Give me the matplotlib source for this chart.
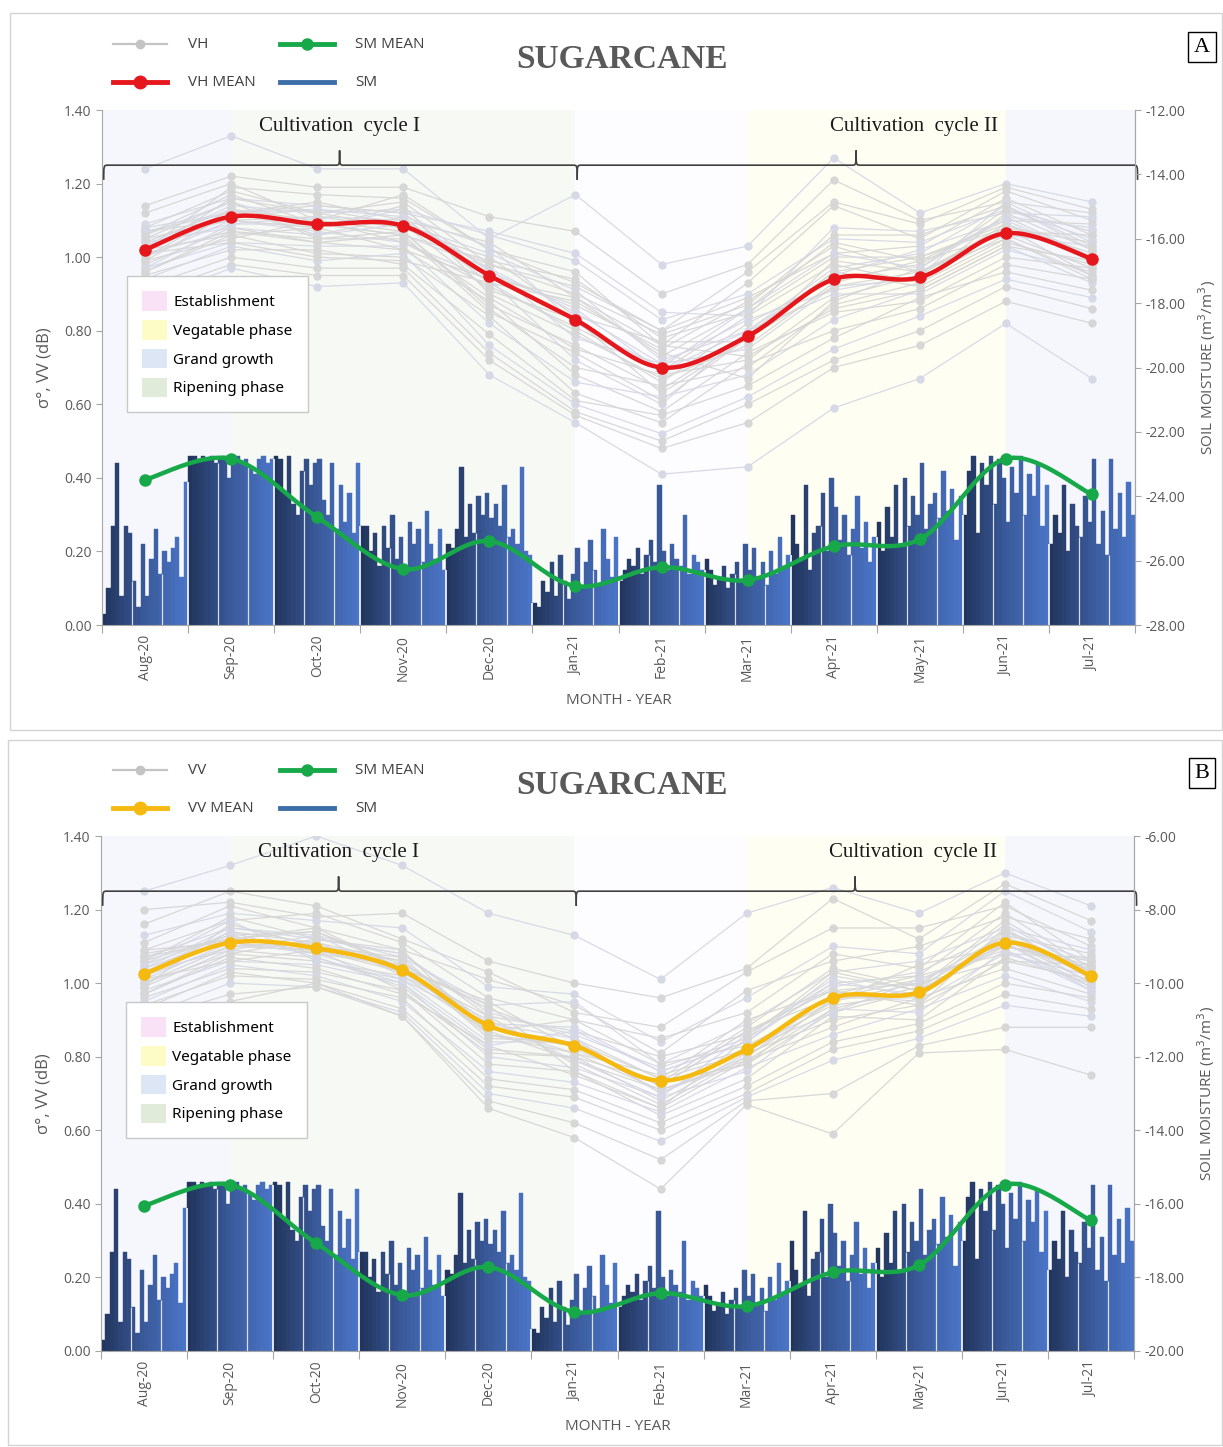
import numpy as np
import matplotlib
matplotlib.use("Agg")
import matplotlib.pyplot as plt
from matplotlib.patches import Patch, Rectangle, PathPatch
from matplotlib.lines import Line2D
from matplotlib.path import Path
from matplotlib.colors import LinearSegmentedColormap

plt.rcParams['font.family'] = ['Open Sans', 'DejaVu Sans']

# ---------------- data ----------------
months = ['Aug-20', 'Sep-20', 'Oct-20', 'Nov-20', 'Dec-20', 'Jan-21',
          'Feb-21', 'Mar-21', 'Apr-21', 'May-21', 'Jun-21', 'Jul-21']

vh_mean = [1.02, 1.11, 1.09, 1.085, 0.95, 0.83, 0.70, 0.785, 0.94, 0.945, 1.065, 0.995]
vv_mean = [1.025, 1.11, 1.095, 1.035, 0.885, 0.83, 0.735, 0.82, 0.96, 0.975, 1.11, 1.02]
sm_mean = [0.395, 0.452, 0.293, 0.152, 0.228, 0.106, 0.157, 0.122, 0.214, 0.233, 0.452, 0.355]

# daily soil moisture bars (left-axis units), one list per month
sm_aug = [0.03, 0.10, 0.27, 0.44, 0.08, 0.27, 0.25, 0.12, 0.05, 0.22, 0.08, 0.18, 0.26, 0.14, 0.20, 0.17, 0.21, 0.24, 0.13, 0.39]
sm_sep = [0.46, 0.46, 0.45, 0.46, 0.45, 0.46, 0.44, 0.45, 0.46, 0.40, 0.45, 0.46, 0.44, 0.45, 0.43, 0.41, 0.45, 0.46, 0.44, 0.45]
sm_oct = [0.46, 0.45, 0.36, 0.46, 0.33, 0.30, 0.42, 0.45, 0.38, 0.44, 0.45, 0.34, 0.30, 0.44, 0.26, 0.38, 0.28, 0.36, 0.25, 0.44]
sm_nov = [0.27, 0.27, 0.20, 0.25, 0.16, 0.27, 0.21, 0.30, 0.18, 0.24, 0.14, 0.28, 0.22, 0.26, 0.17, 0.31, 0.22, 0.18, 0.26, 0.15]
sm_dec = [0.22, 0.21, 0.26, 0.43, 0.24, 0.33, 0.25, 0.35, 0.30, 0.36, 0.29, 0.33, 0.27, 0.38, 0.24, 0.26, 0.22, 0.43, 0.20, 0.19]
sm_jan = [0.06, 0.05, 0.12, 0.09, 0.17, 0.08, 0.19, 0.12, 0.07, 0.14, 0.21, 0.10, 0.17, 0.23, 0.15, 0.11, 0.26, 0.18, 0.13, 0.24]
sm_feb = [0.12, 0.15, 0.18, 0.16, 0.21, 0.14, 0.19, 0.23, 0.17, 0.38, 0.20, 0.15, 0.22, 0.18, 0.16, 0.30, 0.14, 0.19, 0.17, 0.15]
sm_mar = [0.18, 0.15, 0.11, 0.13, 0.16, 0.10, 0.14, 0.17, 0.12, 0.22, 0.15, 0.21, 0.13, 0.17, 0.11, 0.20, 0.14, 0.24, 0.16, 0.19]
sm_apr = [0.30, 0.22, 0.18, 0.38, 0.15, 0.25, 0.27, 0.36, 0.20, 0.40, 0.32, 0.23, 0.30, 0.19, 0.26, 0.35, 0.21, 0.28, 0.17, 0.24]
sm_may = [0.28, 0.20, 0.32, 0.24, 0.38, 0.22, 0.40, 0.27, 0.35, 0.30, 0.44, 0.26, 0.33, 0.36, 0.29, 0.42, 0.31, 0.37, 0.23, 0.35]
sm_jun = [0.30, 0.42, 0.46, 0.25, 0.44, 0.38, 0.46, 0.33, 0.45, 0.40, 0.28, 0.43, 0.36, 0.46, 0.30, 0.41, 0.35, 0.44, 0.27, 0.38]
sm_jul = [0.22, 0.30, 0.25, 0.38, 0.20, 0.33, 0.27, 0.24, 0.35, 0.28, 0.45, 0.22, 0.31, 0.19, 0.45, 0.26, 0.36, 0.24, 0.39, 0.30]
sm_daily = [sm_aug, sm_sep, sm_oct, sm_nov, sm_dec, sm_jan, sm_feb, sm_mar, sm_apr, sm_may, sm_jun, sm_jul]

# individual fields, VH (panel A)
vh_fields = [
    [1.24, 1.33, 1.24, 1.24, 1.05, 1.17, 0.98, 1.03, 1.27, 1.12, 1.20, 1.15],
    [1.14, 1.22, 1.19, 1.19, 1.11, 1.07, 0.90, 0.98, 1.21, 1.10, 1.15, 1.12],
    [1.12, 1.20, 1.10, 1.17, 1.02, 0.96, 0.76, 0.93, 1.14, 1.05, 1.18, 1.10],
    [1.09, 1.16, 1.14, 1.12, 1.07, 1.01, 0.85, 0.84, 1.08, 1.07, 1.12, 1.11],
    [1.08, 1.18, 1.12, 1.15, 0.98, 0.92, 0.80, 0.89, 1.01, 1.03, 1.16, 1.06],
    [1.07, 1.12, 1.15, 1.10, 1.04, 0.89, 0.73, 0.86, 1.04, 0.99, 1.10, 1.09],
    [1.06, 1.15, 1.08, 1.13, 0.96, 0.86, 0.69, 0.80, 0.97, 1.01, 1.14, 1.02],
    [1.05, 1.10, 1.11, 1.08, 1.00, 0.84, 0.77, 0.77, 0.99, 0.96, 1.08, 1.04],
    [1.04, 1.13, 1.06, 1.11, 0.93, 0.80, 0.66, 0.82, 0.94, 0.98, 1.11, 1.00],
    [1.03, 1.09, 1.09, 1.06, 0.97, 0.78, 0.71, 0.75, 0.92, 0.94, 1.06, 1.03],
    [1.02, 1.11, 1.13, 1.09, 0.91, 0.83, 0.63, 0.78, 0.96, 0.92, 1.04, 0.98],
    [1.01, 1.07, 1.05, 1.05, 0.89, 0.75, 0.68, 0.72, 0.89, 0.95, 1.09, 0.99],
    [1.00, 1.10, 1.07, 1.04, 0.94, 0.72, 0.60, 0.80, 0.90, 0.90, 1.02, 0.96],
    [0.99, 1.05, 1.10, 1.07, 0.86, 0.70, 0.65, 0.70, 0.87, 0.93, 1.05, 0.95],
    [0.98, 1.08, 1.04, 1.02, 0.88, 0.68, 0.58, 0.74, 0.85, 0.88, 1.00, 0.97],
    [0.97, 1.04, 1.03, 1.03, 0.82, 0.66, 0.62, 0.68, 0.83, 0.91, 1.03, 0.93],
    [0.96, 1.06, 1.01, 1.00, 0.84, 0.63, 0.55, 0.71, 0.80, 0.86, 0.98, 0.94],
    [0.95, 1.02, 1.02, 0.98, 0.79, 0.61, 0.57, 0.65, 0.78, 0.89, 0.96, 0.91],
    [0.94, 1.03, 0.99, 1.01, 0.76, 0.60, 0.52, 0.62, 0.75, 0.84, 0.94, 0.89],
    [0.92, 1.00, 0.97, 0.97, 0.74, 0.58, 0.50, 0.60, 0.72, 0.80, 0.92, 0.86],
    [0.90, 0.98, 0.95, 0.95, 0.72, 0.57, 0.48, 0.55, 0.70, 0.76, 0.88, 0.82],
    [0.88, 0.97, 0.92, 0.93, 0.68, 0.55, 0.41, 0.43, 0.59, 0.67, 0.82, 0.67],
    [1.02, 1.19, 1.17, 1.16, 1.02, 0.93, 0.80, 0.96, 1.15, 1.09, 1.19, 1.13],
    [1.01, 1.04, 1.00, 0.99, 0.93, 0.88, 0.74, 0.67, 0.88, 0.97, 1.13, 1.07],
    [1.03, 1.14, 1.12, 1.13, 1.06, 0.99, 0.83, 0.90, 1.05, 1.04, 1.13, 1.05],
    [1.06, 1.17, 1.09, 1.06, 0.99, 0.94, 0.78, 0.85, 1.00, 1.00, 1.09, 1.01],
    [0.99, 1.12, 1.14, 1.12, 0.95, 0.87, 0.75, 0.88, 1.03, 0.96, 1.07, 1.06],
    [1.04, 1.08, 1.06, 1.09, 1.01, 0.91, 0.72, 0.80, 0.95, 1.02, 1.10, 1.00],
    [1.00, 1.13, 1.10, 1.04, 0.92, 0.81, 0.69, 0.84, 0.98, 0.93, 1.12, 1.02],
    [1.07, 1.10, 1.08, 1.14, 0.90, 0.79, 0.67, 0.76, 0.93, 0.99, 1.06, 0.97],
    [0.97, 1.09, 1.11, 1.10, 0.97, 0.85, 0.71, 0.83, 0.91, 0.95, 1.15, 1.04],
    [1.05, 1.15, 1.05, 1.07, 0.87, 0.76, 0.64, 0.79, 0.96, 1.00, 1.08, 0.95],
    [1.02, 1.06, 1.08, 1.02, 0.94, 0.89, 0.76, 0.73, 0.86, 0.91, 1.03, 0.99],
    [1.08, 1.12, 1.13, 1.11, 1.03, 0.82, 0.70, 0.86, 1.01, 0.97, 1.11, 1.08],
    [0.96, 1.07, 1.04, 1.06, 0.85, 0.74, 0.61, 0.78, 0.92, 0.96, 1.05, 0.94],
    [1.01, 1.16, 1.12, 1.08, 0.98, 0.90, 0.79, 0.87, 1.06, 1.06, 1.14, 1.03],
]

# individual fields, VV (panel B)
vv_fields = [
    [1.25, 1.32, 1.40, 1.32, 1.19, 1.13, 1.01, 1.19, 1.26, 1.19, 1.30, 1.21],
    [1.20, 1.22, 1.18, 1.19, 1.06, 1.00, 0.96, 1.04, 1.23, 1.12, 1.27, 1.17],
    [1.16, 1.25, 1.21, 1.12, 1.03, 0.92, 0.88, 1.03, 1.15, 1.15, 1.21, 1.10],
    [1.13, 1.19, 1.17, 1.15, 0.99, 0.97, 0.84, 0.96, 1.10, 1.08, 1.25, 1.14],
    [1.11, 1.21, 1.15, 1.09, 1.01, 0.94, 0.81, 0.98, 1.06, 1.10, 1.18, 1.12],
    [1.09, 1.17, 1.19, 1.11, 0.96, 0.90, 0.85, 0.92, 1.08, 1.04, 1.22, 1.06],
    [1.07, 1.15, 1.13, 1.07, 0.94, 0.95, 0.78, 0.89, 1.03, 1.06, 1.15, 1.09],
    [1.06, 1.18, 1.12, 1.08, 0.91, 0.87, 0.80, 0.86, 1.00, 1.02, 1.19, 1.04],
    [1.05, 1.13, 1.14, 1.05, 0.93, 0.85, 0.74, 0.90, 0.98, 1.00, 1.13, 1.08],
    [1.04, 1.12, 1.10, 1.06, 0.89, 0.88, 0.76, 0.84, 1.02, 0.98, 1.16, 1.03],
    [1.03, 1.14, 1.11, 1.03, 0.88, 0.83, 0.72, 0.87, 0.96, 1.01, 1.10, 1.05],
    [1.02, 1.10, 1.09, 1.04, 0.86, 0.81, 0.75, 0.82, 0.94, 0.97, 1.12, 1.00],
    [1.01, 1.11, 1.08, 1.01, 0.84, 0.84, 0.70, 0.80, 0.97, 0.95, 1.08, 1.02],
    [1.00, 1.08, 1.06, 1.02, 0.87, 0.79, 0.71, 0.78, 0.92, 0.98, 1.11, 0.99],
    [0.99, 1.09, 1.07, 0.99, 0.82, 0.80, 0.68, 0.81, 0.90, 0.94, 1.06, 1.01],
    [0.98, 1.06, 1.05, 1.00, 0.80, 0.77, 0.69, 0.76, 0.93, 0.92, 1.09, 0.98],
    [0.97, 1.07, 1.04, 0.97, 0.83, 0.75, 0.66, 0.79, 0.88, 0.96, 1.04, 0.97],
    [0.96, 1.04, 1.03, 0.98, 0.78, 0.76, 0.64, 0.74, 0.91, 0.90, 1.07, 1.00],
    [0.95, 1.05, 1.02, 0.95, 0.76, 0.73, 0.65, 0.77, 0.86, 0.93, 1.02, 0.95],
    [0.94, 1.02, 1.01, 0.96, 0.74, 0.71, 0.62, 0.72, 0.84, 0.89, 1.00, 0.96],
    [0.93, 1.03, 1.00, 0.93, 0.72, 0.69, 0.60, 0.70, 0.82, 0.87, 0.97, 0.93],
    [0.91, 1.00, 0.99, 0.92, 0.70, 0.66, 0.57, 0.69, 0.79, 0.85, 0.94, 0.91],
    [0.90, 0.97, 0.99, 0.91, 0.68, 0.62, 0.52, 0.68, 0.70, 0.83, 0.88, 0.88],
    [0.90, 0.95, 1.00, 0.91, 0.66, 0.58, 0.44, 0.67, 0.59, 0.81, 0.82, 0.75],
    [1.04, 1.15, 1.12, 1.08, 0.92, 0.86, 0.77, 0.85, 0.99, 1.03, 1.14, 1.06],
    [1.08, 1.12, 1.15, 1.04, 0.95, 0.82, 0.73, 0.88, 1.04, 0.99, 1.17, 1.03],
    [0.99, 1.16, 1.10, 1.07, 0.87, 0.90, 0.78, 0.83, 0.95, 1.05, 1.10, 1.04],
    [1.03, 1.09, 1.13, 1.02, 0.90, 0.79, 0.69, 0.86, 1.01, 0.96, 1.13, 1.00],
    [1.06, 1.13, 1.08, 1.05, 0.85, 0.84, 0.74, 0.81, 0.97, 1.02, 1.08, 1.07],
    [1.00, 1.10, 1.11, 1.06, 0.88, 0.81, 0.71, 0.79, 0.93, 0.99, 1.12, 1.02],
    [1.02, 1.14, 1.07, 1.00, 0.83, 0.87, 0.76, 0.84, 1.00, 0.97, 1.11, 0.98],
    [1.09, 1.11, 1.09, 1.03, 0.91, 0.78, 0.67, 0.80, 0.95, 1.00, 1.06, 1.05],
    [0.97, 1.08, 1.12, 1.09, 0.86, 0.83, 0.72, 0.87, 0.98, 0.94, 1.15, 1.01],
    [1.05, 1.17, 1.06, 1.01, 0.89, 0.85, 0.70, 0.82, 0.92, 1.01, 1.09, 0.99],
    [1.01, 1.06, 1.09, 0.98, 0.81, 0.80, 0.73, 0.78, 0.96, 0.96, 1.14, 1.03],
    [1.07, 1.12, 1.14, 1.04, 0.94, 0.76, 0.66, 0.85, 1.03, 0.98, 1.10, 1.06],
]

phase_labels = ['Establishment', 'Vegatable phase', 'Grand growth', 'Ripening phase']
phase_legend_colors = ['#f9e2f6', '#fdfbc6', '#dce6f4', '#e1ebda']
# phase periods as (start month index, end month index, phase)
phase_periods = [(-0.5, 1.0, 'Grand growth'), (1.0, 5.0, 'Ripening phase'),
                 (5.0, 7.0, 'Establishment'), (7.0, 10.0, 'Vegatable phase'),
                 (10.0, 11.5, 'Grand growth')]
phase_bg = {'Grand growth': '#f5f7fc', 'Ripening phase': '#f7f9f4',
            'Establishment': '#fdfcfe', 'Vegatable phase': '#fefef2'}

# cycle label, brace start, brace end, brace tip, label centre
cycles = [('Cultivation  cycle I', -0.48, 5.02, 2.26, 2.26),
          ('Cultivation  cycle II', 5.02, 11.53, 8.26, 8.93)]

GRAY_T = '#595959'


def smooth(xs, ys, n=24):
    pts = np.column_stack([xs, ys]).astype(float)
    P = np.vstack([pts[0], pts, pts[-1]])
    out = []
    t = np.linspace(0, 1, n)[:, None]
    for i in range(1, len(P) - 2):
        p0, p1, p2, p3 = P[i - 1], P[i], P[i + 1], P[i + 2]
        c1 = p1 + (p2 - p0) / 6
        c2 = p2 - (p3 - p1) / 6
        seg = (1 - t) ** 3 * p1 + 3 * (1 - t) ** 2 * t * c1 + 3 * (1 - t) * t ** 2 * c2 + t ** 3 * p2
        out.append(seg)
    return np.vstack(out)


def brace(ax, x0, x1, xm, y, dy=0.04, dx=0.05):
    verts = [(x0, y - dy), (x0, y), (x0, y), (x0 + dx, y),
             (xm - dx, y),
             (xm, y), (xm, y), (xm, y + dy),
             (xm, y), (xm, y), (xm + dx, y),
             (x1 - dx, y),
             (x1, y), (x1, y), (x1, y - dy)]
    codes = [Path.MOVETO, Path.CURVE4, Path.CURVE4, Path.CURVE4,
             Path.LINETO,
             Path.CURVE4, Path.CURVE4, Path.CURVE4,
             Path.CURVE4, Path.CURVE4, Path.CURVE4,
             Path.LINETO,
             Path.CURVE4, Path.CURVE4, Path.CURVE4]
    pp = PathPatch(Path(verts, codes), fill=False, edgecolor='#404040', lw=1.2,
                   zorder=6, clip_on=False)
    ax.add_patch(pp)


bar_cmap = LinearSegmentedColormap.from_list('smb', ['#22355d', '#3a5a9a', '#4a74c6'])

fig = plt.figure(figsize=(12.23, 14.47), dpi=100)
W, H = 1223.0, 1447.0


def fx(px):
    return px / W


def fy(py):
    return 1 - py / H


def panel(top_px, left_px, fields, mean, mean_color, name, rlim, letter, frame):
    fig.add_artist(Rectangle((fx(frame[0]), fy(frame[3])), fx(frame[2] - frame[0]),
                             (frame[3] - frame[1]) / H, transform=fig.transFigure,
                             fill=False, edgecolor='#d4d4d4', lw=1.0))
    ax = fig.add_axes([fx(left_px), fy(top_px + 515), 1033 / W, 515 / H])
    ax.set_xlim(-0.5, 11.5)
    ax.set_ylim(0, 1.40)
    x = np.arange(len(months))

    for s, e, ph in phase_periods:
        ax.axvspan(s, e, color=phase_bg[ph], zorder=0, lw=0)

    # daily SM bars
    prev_last = None
    for m, vals in enumerate(sm_daily):
        n = len(vals)
        pos = m - 0.5 + (np.arange(n) + 0.5) / n
        cols = bar_cmap(np.linspace(0, 1, n))
        ax.bar(pos, vals, width=1.0 / n, color=cols, edgecolor=cols, linewidth=0.3, zorder=1)
        # thin white separators inside the bars
        for k in (7, 14):
            ax.vlines(m - 0.5 + k / n, 0, min(vals[k - 1], vals[k]), color='white',
                      lw=0.9, alpha=0.8, zorder=1.5)
        if prev_last is not None:
            ax.vlines(m - 0.5, 0, min(prev_last, vals[0]), color='white', lw=1.2, zorder=1.5)
        prev_last = vals[-1]

    # individual fields
    for i, f in enumerate(fields):
        c = '#d6d8e6' if i % 3 == 0 else '#d6d6d6'
        ax.plot(x, f, color=c, lw=0.9, marker='o', ms=5, mfc=c, mec=c, zorder=2, alpha=0.95)

    # means
    sm_s = smooth(x, sm_mean)
    ax.plot(sm_s[:, 0], sm_s[:, 1], color='#17a84a', lw=3.2, zorder=4, solid_capstyle='round')
    ax.plot(x, sm_mean, 'o', color='#17a84a', ms=8, zorder=4)
    m_s = smooth(x, mean)
    ax.plot(m_s[:, 0], m_s[:, 1], color=mean_color, lw=3.2, zorder=5, solid_capstyle='round')
    ax.plot(x, mean, 'o', color=mean_color, ms=8, zorder=5)

    ax.spines['top'].set_visible(False)
    for sp in ['left', 'bottom', 'right']:
        ax.spines[sp].set_color('#a6a6a6')
    yt = np.arange(0, 1.41, 0.2)
    ax.set_yticks(yt)
    ax.set_yticklabels(['%.2f' % v for v in yt])
    ax.tick_params(axis='y', colors='#a6a6a6', labelcolor=GRAY_T, labelsize=10, length=4)
    ax.set_xticks(np.arange(-0.5, 11.6, 1.0))
    ax.set_xticklabels([])
    ax.set_xticks(x, minor=True)
    ax.set_xticklabels(months, minor=True, rotation=90)
    ax.tick_params(axis='x', which='major', colors='#a6a6a6', length=6)
    ax.tick_params(axis='x', which='minor', length=0, labelcolor=GRAY_T, labelsize=10, pad=7)
    ax.set_xlabel('MONTH - YEAR', color=GRAY_T, fontsize=11, labelpad=8)
    ax.set_ylabel('σ°, VV (dB)', color=GRAY_T, fontsize=12, labelpad=8)

    ax2 = ax.twinx()
    ax2.set_ylim(*rlim)
    rt = np.arange(rlim[0], rlim[1] + 0.1, 2)
    ax2.set_yticks(rt)
    ax2.set_yticklabels(['%.2f' % v for v in rt])
    ax2.tick_params(axis='y', colors='#a6a6a6', labelcolor=GRAY_T, labelsize=10, length=4)
    for sp in ['top', 'left', 'bottom']:
        ax2.spines[sp].set_visible(False)
    ax2.spines['right'].set_color('#a6a6a6')
    ax2.set_ylabel('SOIL MOISTURE (m$^3$/m$^3$)', color=GRAY_T, fontsize=11, labelpad=8)

    for label, x0, x1, xm, xt in cycles:
        brace(ax, x0, x1, xm, 1.25)
        ax.text(xt, 1.355, label, ha='center', va='center', fontsize=15,
                family='Liberation Serif', color='#1a1a1a', zorder=6)

    handles = [Patch(facecolor=c, edgecolor='none') for c in phase_legend_colors]
    leg = ax.legend(handles, phase_labels, loc='upper left', bbox_to_anchor=(0.024, 0.678),
                    borderaxespad=0.0,
                    frameon=True, fancybox=False, framealpha=1, edgecolor='#c8c8c8',
                    handlelength=1.6, handleheight=1.6, labelspacing=0.6, borderpad=1.0,
                    handletextpad=0.45, prop={'family': 'Noto Sans', 'size': 11})
    leg.set_zorder(10)
    leg.get_frame().set_linewidth(1.0)

    fig.text(fx(622), fy(top_px - 50), 'SUGARCANE', ha='center', va='center', fontsize=24,
             weight='bold', family='Liberation Serif', color=GRAY_T)
    fig.text(fx(1202), fy(top_px - 63), letter, ha='center', va='center', fontsize=16,
             family='Liberation Serif', color='black',
             bbox=dict(boxstyle='square,pad=0.25', fc='white', ec='black', lw=1))

    items = [(113, top_px - 66, '#c4c4c4', 1.6, 6, name),
             (113, top_px - 28, mean_color, 3.5, 9, name + ' MEAN'),
             (280, top_px - 66, '#17a84a', 3.5, 8, 'SM MEAN'),
             (280, top_px - 28, '#3d6ea8', 3.5, 0, 'SM')]
    for x0, yy, c, lw, ms, lab in items:
        fig.add_artist(Line2D([fx(x0), fx(x0 + 54)], [fy(yy), fy(yy)], color=c, lw=lw,
                              transform=fig.transFigure))
        if ms:
            fig.add_artist(Line2D([fx(x0 + 27)], [fy(yy)], marker='o', ms=ms, color=c,
                                  transform=fig.transFigure))
        fig.text(fx(x0 + 75), fy(yy), lab, ha='left', va='center', fontsize=11, color='#404040')
    return ax


panel(110, 102, vh_fields, vh_mean, '#e5171c', 'VH', (-28, -12), 'A', (10, 13, 1222, 730))
panel(836, 101, vv_fields, vv_mean, '#f5b90f', 'VV', (-20, -6), 'B', (8, 740, 1222, 1445))

fig.savefig('out.png', dpi=100, facecolor='white')
